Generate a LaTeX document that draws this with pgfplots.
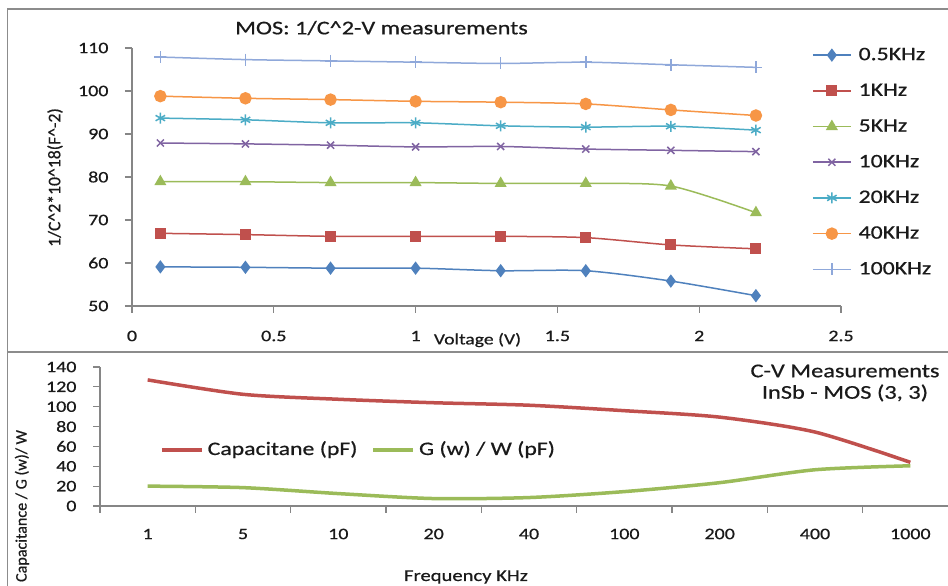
\documentclass[border=0pt]{standalone}
\usepackage{fontspec}
\setmainfont{Carlito}[FakeStretch=1.25, FakeBold=0.6]
\newfontfamily\rotfont{Carlito}[FakeBold=0.6]
\usepackage{pgfplots}
\pgfplotsset{compat=1.18}
\definecolor{cA}{HTML}{4F81BD}
\definecolor{cB}{HTML}{C0504D}
\definecolor{cC}{HTML}{9BBB59}
\definecolor{cD}{HTML}{8064A2}
\definecolor{cE}{HTML}{4BACC6}
\definecolor{cF}{HTML}{F79646}
\definecolor{cG}{HTML}{8FA8DA}
\definecolor{framegray}{HTML}{8C8C8C}
\definecolor{axgray}{HTML}{868686}
\definecolor{txt}{HTML}{1A1A1A}
\newcommand{\fs}[1]{\fontsize{#1}{#1}\selectfont}
\pgfplotsset{/pgf/number format/assume math mode=true}
\begin{document}
\begin{tikzpicture}[x=1pt,y=1pt]
\useasboundingbox (0,0) rectangle (948,586);
\clip (0,0) rectangle (948,586);
\fill[white] (0,0) rectangle (948,586);
\draw[framegray, line width=1.5pt] (7.5,0) -- (7.5,577) -- (948,577);
\draw[framegray, line width=1.5pt] (7.5,234) -- (948,234);

\begin{axis}[
  at={(132pt,280pt)}, anchor=south west, scale only axis,
  width=709pt, height=258pt,
  xmin=0, xmax=2.5, ymin=50, ymax=110,
  xtick={0,0.5,1,1.5,2,2.5}, ytick={50,60,...,110},
  xticklabels={0,0.5,1,1.5,2,2.5},
  axis lines=left, axis line style={-, draw=axgray, line width=1.2pt},
  tick align=outside, major tick length=7pt,
  tick style={draw=axgray, line width=1.2pt},
  xticklabel style={font=\fs{16}, text=txt, anchor=center, yshift=-23pt},
  yticklabel style={font=\fs{16}, text=txt, anchor=east, xshift=-13pt},
  clip=false,
  legend cell align=left,
  legend style={at={(0.959,1.008)}, anchor=north west, draw=none, fill=none,
    inner sep=0pt, font=\fs{19}, text=txt,
    nodes={inner sep=0pt, text height=14pt, text depth=4pt},
    row sep=17.7pt, column sep=7pt},
  legend image code/.code={\draw[mark repeat=2,mark phase=2,#1] plot coordinates {(0pt,0pt) (19pt,0pt) (38pt,0pt)};},
  every axis plot/.append style={line width=1.5pt, smooth, tension=0.45, mark options={solid}},
]
\addplot[cA, mark=diamond*, mark size=5.5pt] coordinates {(0.1,59.1) (0.4,59.0) (0.7,58.8) (1.0,58.8) (1.3,58.2) (1.6,58.2) (1.9,55.8) (2.2,52.4)};
\addlegendentry{0.5KHz}
\addplot[cB, mark=square*, mark size=4.8pt] coordinates {(0.1,66.9) (0.4,66.6) (0.7,66.2) (1.0,66.2) (1.3,66.2) (1.6,65.9) (1.9,64.2) (2.2,63.3)};
\addlegendentry{1KHz}
\addplot[cC, mark=triangle*, mark size=5.5pt] coordinates {(0.1,78.9) (0.4,78.9) (0.7,78.7) (1.0,78.7) (1.3,78.5) (1.6,78.5) (1.9,77.9) (2.2,71.7)};
\addlegendentry{5KHz}
\addplot[cD, mark=x, mark size=5pt] coordinates {(0.1,87.9) (0.4,87.7) (0.7,87.4) (1.0,87.0) (1.3,87.1) (1.6,86.5) (1.9,86.2) (2.2,85.9)};
\addlegendentry{10KHz}
\addplot[cE, mark=asterisk, mark size=5.5pt] coordinates {(0.1,93.7) (0.4,93.3) (0.7,92.6) (1.0,92.6) (1.3,91.9) (1.6,91.6) (1.9,91.8) (2.2,90.9)};
\addlegendentry{20KHz}
\addplot[cF, mark=*, mark size=5.5pt] coordinates {(0.1,98.8) (0.4,98.3) (0.7,98.0) (1.0,97.6) (1.3,97.4) (1.6,97.0) (1.9,95.6) (2.2,94.3)};
\addlegendentry{40KHz}
\addplot[cG, mark=+, mark size=6pt] coordinates {(0.1,107.9) (0.4,107.3) (0.7,107.0) (1.0,106.7) (1.3,106.4) (1.6,106.7) (1.9,106.1) (2.2,105.5)};
\addlegendentry{100KHz}
\end{axis}

\node[font=\fs{19.4}, text=txt] at (381.5,558) {MOS: 1/C\textasciicircum2-V measurements};
\node[font=\fs{15.7}, text=txt] at (477.5,246) {Voltage (V)};
\node[font=\rotfont\fs{17.7}, text=txt, rotate=90] at (55,408.5) {1/C\textasciicircum2*10\textasciicircum18(F\textasciicircum-2)};

\begin{axis}[
  at={(100pt,80pt)}, anchor=south west, scale only axis,
  width=858pt, height=139pt,
  xmin=-0.5, xmax=8.5, ymin=0, ymax=140,
  xtick={-0.5,0.5,1.5,2.5,3.5,4.5,5.5,6.5,7.5,8.5},
  x tick label as interval,
  xticklabels={1,5,10,20,40,100,200,400,1000},
  ytick={0,20,...,140},
  axis lines=left, axis line style={-, draw=axgray, line width=1.2pt},
  tick align=outside, major tick length=7pt,
  tick style={draw=axgray, line width=1.2pt},
  xticklabel style={font=\fs{16}, text=txt, anchor=center, yshift=-21pt},
  yticklabel style={font=\fs{16}, text=txt, anchor=east, xshift=-13pt},
  clip=false,
  legend columns=2,
  legend style={at={(0.0699,0.403)}, anchor=west, draw=none, fill=none,
    inner sep=0pt, font=\fs{19}, text=txt,
    nodes={inner sep=0pt, text height=14pt, text depth=4pt},
    /tikz/every odd column/.append style={column sep=4pt},
    /tikz/every even column/.append style={column sep=14pt}},
  legend image code/.code={\draw[#1] (0pt,0pt) -- (40pt,0pt);},
  every axis plot/.append style={line width=3.5pt, smooth, tension=0.45, no marks},
]
\addplot[cB] coordinates {(0,127) (1,112.5) (2,107.5) (3,104) (4,101.5) (5,96) (6,89.5) (7,74.5) (8,44)};
\addlegendentry{Capacitane (pF)}
\addplot[cC] coordinates {(0,20) (1,18.5) (2,12.5) (3,7.5) (4,8.5) (5,14.5) (6,23.5) (7,36.5) (8,40.5)};
\addlegendentry{G (w) / W (pF)}
\end{axis}

\node[font=\fs{16.5}, text=txt] at (466,9) {Frequency KHz};
\node[font=\rotfont\fs{16.1}, text=txt, rotate=90] at (22,80) {Capacitance / G (w)/ W};
\node[font=\fs{19.5}, text=txt, align=center, inner sep=0pt] at (845,203) {C-V Measurements\\[2pt]InSb - MOS (3, 3)};
\end{tikzpicture}
\end{document}
